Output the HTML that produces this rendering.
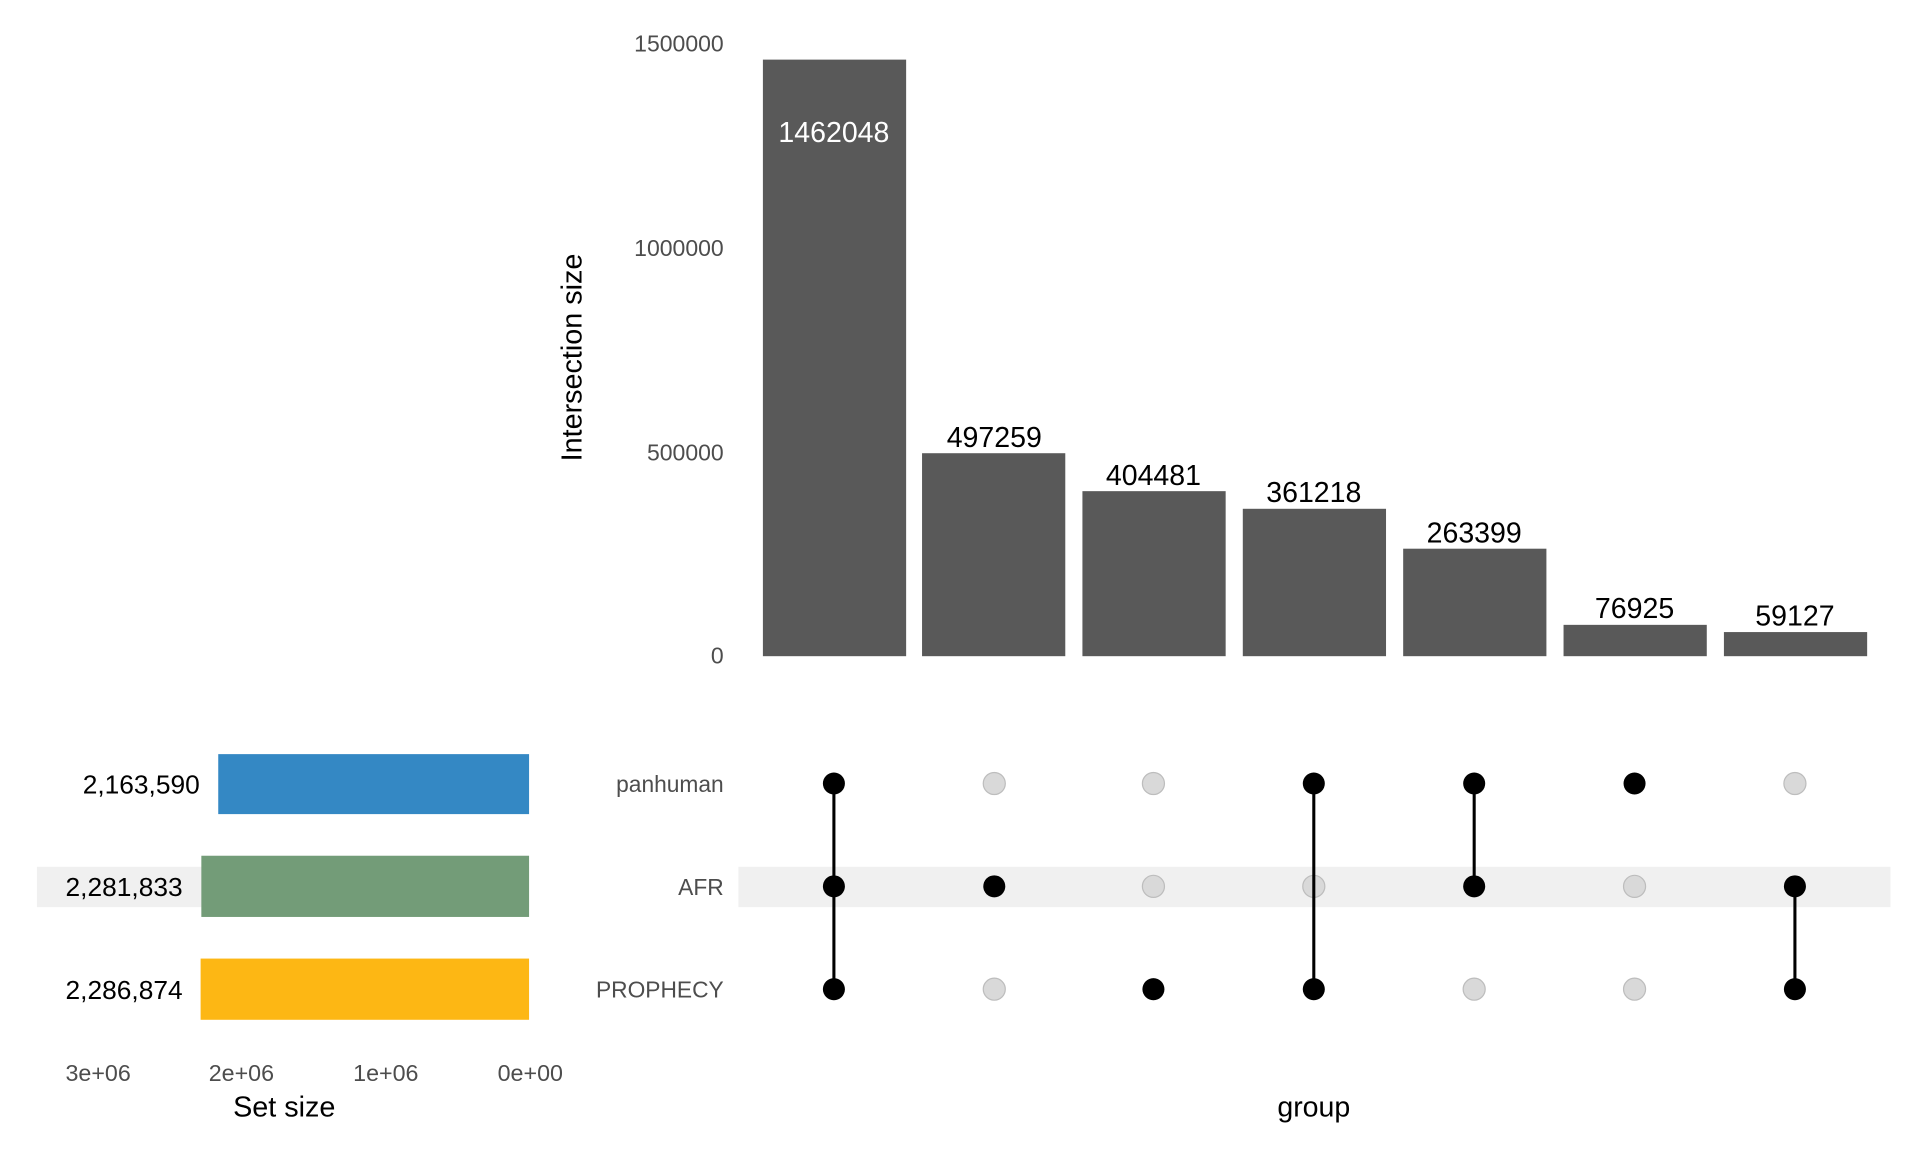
<!DOCTYPE html>
<html><head><meta charset="utf-8"><style>html,body{margin:0;padding:0;background:#fff}svg{display:block}</style></head>
<body>
<svg width="1920" height="1152" viewBox="0 0 1568 941" xmlns="http://www.w3.org/2000/svg" font-family="Liberation Sans, DejaVu Sans, sans-serif">
<rect width="1568" height="941" fill="#fff"/>
<g font-size="18.8" fill="#4d4d4d" text-anchor="end">
<text x="591" y="42">1500000</text>
<text x="591" y="209">1000000</text>
<text x="591" y="376">500000</text>
<text x="591" y="542">0</text>
</g>
<text transform="translate(475,292) rotate(-90)" font-size="23.5" text-anchor="middle" fill="#000">Intersection size</text>
<g fill="#595959">
<rect x="623" y="48.7" width="117" height="487.3"/>
<rect x="753" y="370.2" width="117" height="165.8"/>
<rect x="884" y="401.2" width="117" height="134.8"/>
<rect x="1015" y="415.6" width="117" height="120.4"/>
<rect x="1146" y="448.2" width="117" height="87.8"/>
<rect x="1277" y="510.4" width="117" height="25.6"/>
<rect x="1408" y="516.3" width="117" height="19.7"/>
</g>
<g font-size="23.3" text-anchor="middle" fill="#000">
<text x="681" y="116" fill="#fff">1462048</text>
<text x="812" y="365">497259</text>
<text x="942" y="396">404481</text>
<text x="1073" y="410">361218</text>
<text x="1204" y="443">263399</text>
<text x="1335" y="505">76925</text>
<text x="1466" y="511">59127</text>
</g>
<rect x="603" y="708" width="941" height="33" fill="#f0f0f0"/>
<rect x="30" y="708" width="402" height="33" fill="#f0f0f0"/>
<g font-size="18.6" fill="#4d4d4d" text-anchor="end">
<text x="591" y="647">panhuman</text>
<text x="591" y="731">AFR</text>
<text x="591" y="815">PROPHECY</text>
</g>
<g fill="#d9d9d9" stroke="#bdbdbd" stroke-width="1">
<circle cx="812" cy="640" r="9"/><circle cx="942" cy="640" r="9"/><circle cx="1466" cy="640" r="9"/>
<circle cx="942" cy="724" r="9"/><circle cx="1073" cy="724" r="9"/><circle cx="1335" cy="724" r="9"/>
<circle cx="812" cy="808" r="9"/><circle cx="1204" cy="808" r="9"/><circle cx="1335" cy="808" r="9"/>
</g>
<g stroke="#000" stroke-width="2.5">
<line x1="681" y1="640" x2="681" y2="808"/>
<line x1="1073" y1="640" x2="1073" y2="808"/>
<line x1="1204" y1="640" x2="1204" y2="724"/>
<line x1="1466" y1="724" x2="1466" y2="808"/>
</g>
<g fill="#000">
<circle cx="681" cy="640" r="9"/><circle cx="681" cy="724" r="9"/><circle cx="681" cy="808" r="9"/>
<circle cx="812" cy="724" r="9"/>
<circle cx="942" cy="808" r="9"/>
<circle cx="1073" cy="640" r="9"/><circle cx="1073" cy="808" r="9"/>
<circle cx="1204" cy="640" r="9"/><circle cx="1204" cy="724" r="9"/>
<circle cx="1335" cy="640" r="9"/>
<circle cx="1466" cy="724" r="9"/><circle cx="1466" cy="808" r="9"/>
</g>
<text x="1073" y="912" font-size="23.3" text-anchor="middle" fill="#000">group</text>
<rect x="178.1" y="616" width="253.9" height="49" fill="#3488c4"/>
<rect x="164.3" y="699" width="267.7" height="50" fill="#739c78"/>
<rect x="163.7" y="783" width="268.3" height="50" fill="#fdb714"/>
<g font-size="21.5" text-anchor="end" fill="#000">
<text x="163" y="648">2,163,590</text>
<text x="149" y="732">2,281,833</text>
<text x="149" y="816">2,286,874</text>
</g>
<g font-size="19" fill="#4d4d4d" text-anchor="middle">
<text x="80" y="883">3e+06</text>
<text x="197" y="883">2e+06</text>
<text x="315" y="883">1e+06</text>
<text x="433" y="883">0e+00</text>
</g>
<text x="232" y="912" font-size="23.5" text-anchor="middle" fill="#000">Set size</text>
</svg>
</body></html>
